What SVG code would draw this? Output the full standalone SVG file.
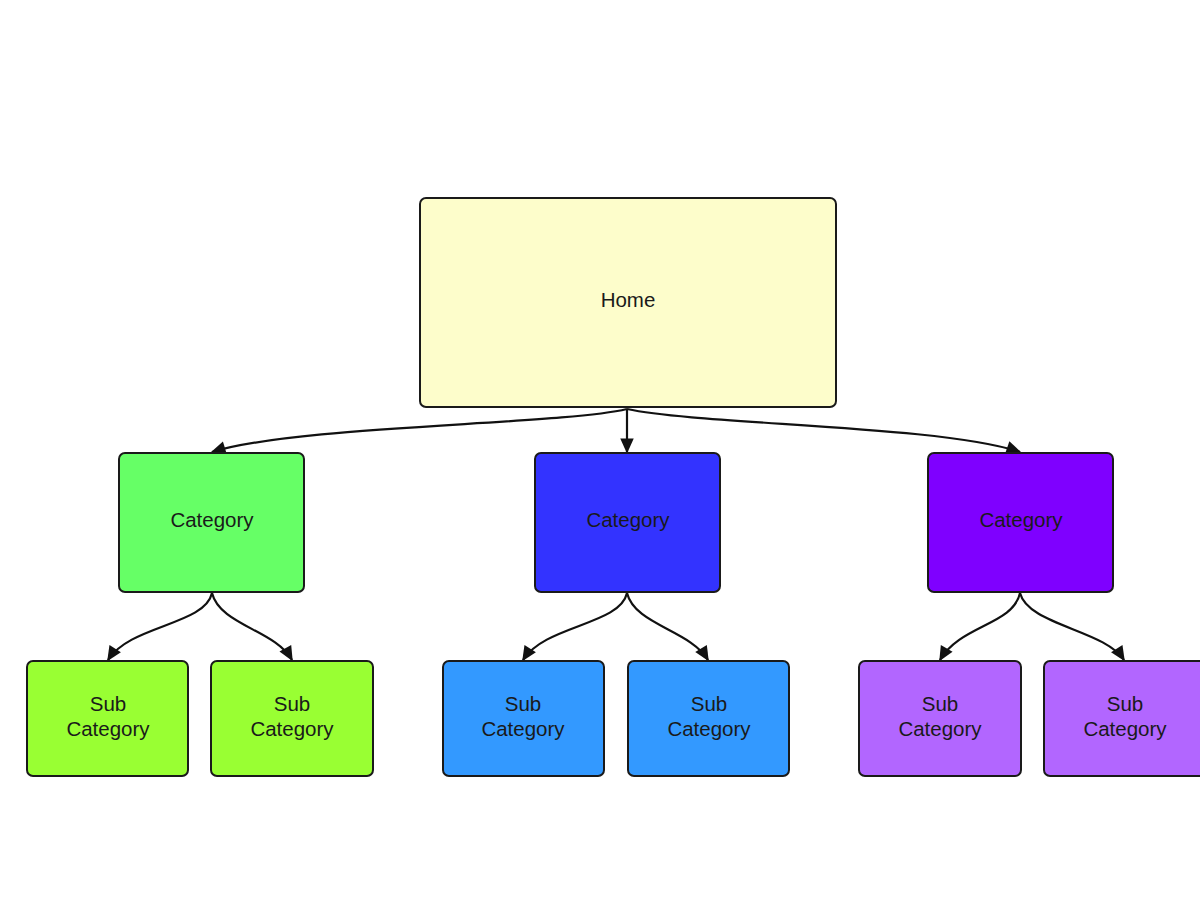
<svg xmlns="http://www.w3.org/2000/svg" width="1200" height="900" viewBox="0 0 1200 900">
<style>
.box{stroke:#1a1a1a;stroke-width:2}
.t{font-family:"Liberation Sans",Arial,sans-serif;font-size:20.5px;fill:#1a1a1a;text-anchor:middle;dominant-baseline:central}
.c{fill:none;stroke:#111;stroke-width:2.2}
</style>
<defs>
<marker id="a" viewBox="0 0 10 10" refX="9" refY="5" markerWidth="18" markerHeight="15" markerUnits="userSpaceOnUse" orient="auto">
<path d="M0,0.5 L10,5 L0,9.5 z" fill="#111"/>
</marker>
</defs>
<rect width="1200" height="900" fill="#fff"/>
<g id="connectors">
<path class="c" d="M627,409 C560,425 300,425 212,452" marker-end="url(#a)"/>
<path class="c" d="M627,409 L627,452" marker-end="url(#a)"/>
<path class="c" d="M627,409 C700,425 940,425 1020,452" marker-end="url(#a)"/>
<path class="c" d="M212,593 C205,625 130,625 108,660" marker-end="url(#a)"/>
<path class="c" d="M212,593 C220,625 275,630 292,660" marker-end="url(#a)"/>
<path class="c" d="M627,593 C620,625 545,625 523,660" marker-end="url(#a)"/>
<path class="c" d="M627,593 C635,625 690,630 708,660" marker-end="url(#a)"/>
<path class="c" d="M1020,593 C1013,625 960,625 940,660" marker-end="url(#a)"/>
<path class="c" d="M1020,593 C1028,625 1105,630 1124,660" marker-end="url(#a)"/>
</g>
<g id="home"><rect class="box" x="420" y="198" width="416" height="209" rx="6" fill="#fdfdcb"/><text class="t" x="628" y="299">Home</text></g>
<g id="cat1"><rect class="box" x="119" y="453" width="185" height="139" rx="6" fill="#66ff66"/><text class="t" x="212" y="519">Category</text></g>
<g id="cat2"><rect class="box" x="535" y="453" width="185" height="139" rx="6" fill="#3333ff"/><text class="t" x="628" y="519">Category</text></g>
<g id="cat3"><rect class="box" x="928" y="453" width="185" height="139" rx="6" fill="#7f00ff"/><text class="t" x="1021" y="519">Category</text></g>
<g id="sub1"><rect class="box" x="27" y="661" width="161" height="115" rx="6" fill="#99ff33"/><text class="t" x="108" y="703">Sub</text><text class="t" x="108" y="728">Category</text></g>
<g id="sub2"><rect class="box" x="211" y="661" width="162" height="115" rx="6" fill="#99ff33"/><text class="t" x="292" y="703">Sub</text><text class="t" x="292" y="728">Category</text></g>
<g id="sub3"><rect class="box" x="443" y="661" width="161" height="115" rx="6" fill="#3399ff"/><text class="t" x="523" y="703">Sub</text><text class="t" x="523" y="728">Category</text></g>
<g id="sub4"><rect class="box" x="628" y="661" width="161" height="115" rx="6" fill="#3399ff"/><text class="t" x="709" y="703">Sub</text><text class="t" x="709" y="728">Category</text></g>
<g id="sub5"><rect class="box" x="859" y="661" width="162" height="115" rx="6" fill="#b266ff"/><text class="t" x="940" y="703">Sub</text><text class="t" x="940" y="728">Category</text></g>
<g id="sub6"><rect class="box" x="1044" y="661" width="162" height="115" rx="6" fill="#b266ff"/><text class="t" x="1125" y="703">Sub</text><text class="t" x="1125" y="728">Category</text></g>
</svg>
